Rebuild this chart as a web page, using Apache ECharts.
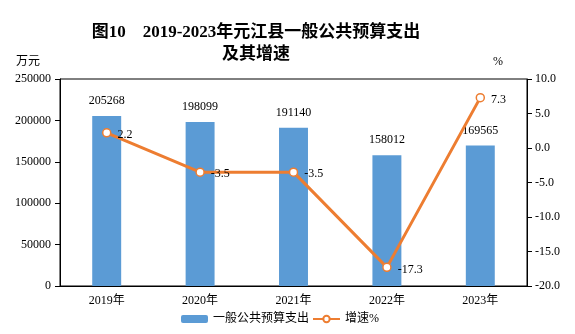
<!DOCTYPE html>
<html><head><meta charset="utf-8">
<script src="https://cdn.jsdelivr.net/npm/echarts@6/dist/echarts.min.js"></script>
<style>html,body{margin:0;padding:0;background:#fff}#c{width:575px;height:334px}</style>
</head><body><div id="c"></div>
<script>
var categories = ['2019年','2020年','2021年','2022年','2023年'];
var spending = [205268, 198099, 191140, 158012, 169565];
var growth = [2.2, -3.5, -3.5, -17.3, 7.3];
var leftTicks = {min: 0, max: 250000, interval: 50000};
var rightTicks = {min: -20, max: 10, interval: 5};

var serif = '"Liberation Serif","Times New Roman","Noto Sans CJK SC",serif';
var chart = echarts.init(document.getElementById('c'));
chart.setOption({
  animation: false,
  textStyle: {fontFamily: serif, color: '#000'},
  graphic: [
    {type: 'text', x: 256, y: 22, style: {text: '图10　2019-2023年元江县一般公共预算支出\n及其增速',
      textAlign: 'center', font: 'bold 17px ' + serif, fill: '#000', lineHeight: 22}},
    {type: 'text', left: 16, top: 56, style: {text: '万元', font: '12px ' + serif, fill: '#000'}},
    {type: 'text', left: 493, top: 56, style: {text: '%', font: '12px ' + serif, fill: '#000'}}
  ],
  legend: {
    bottom: 4, left: 176, itemGap: 3, itemWidth: 27, itemHeight: 8,
    textStyle: {fontFamily: serif, fontSize: 12, color: '#000'},
    data: [{name: '一般公共预算支出'}, {name: '增速%'}]
  },
  grid: {left: 60, right: 48, top: 79, bottom: 48, show: true, borderColor: '#000', borderWidth: 1},
  xAxis: {
    type: 'category', data: categories,
    axisLine: {lineStyle: {color: '#000'}},
    axisTick: {show: false},
    axisLabel: {color: '#000', fontSize: 12, fontFamily: serif, margin: 9}
  },
  yAxis: [
    {type: 'value', min: leftTicks.min, max: leftTicks.max, interval: leftTicks.interval,
     axisLine: {show: true, lineStyle: {color: '#000'}},
     axisTick: {show: true, inside: false, length: 5, lineStyle: {color: '#000'}},
     splitLine: {show: false},
     axisLabel: {color: '#000', fontSize: 12, fontFamily: serif, margin: 9,
       formatter: function (v) { return String(v); }}},
    {type: 'value', min: rightTicks.min, max: rightTicks.max, interval: rightTicks.interval,
     axisLine: {show: true, lineStyle: {color: '#000'}},
     axisTick: {show: true, inside: false, length: 5, lineStyle: {color: '#000'}},
     splitLine: {show: false},
     axisLabel: {color: '#000', fontSize: 12, fontFamily: serif, margin: 8,
       formatter: function (v) { return v.toFixed(1); }}}
  ],
  series: [
    {name: '一般公共预算支出', type: 'bar', data: spending, barWidth: '31%',
     itemStyle: {color: '#5B9BD5'},
     label: {show: true, position: 'top', distance: 9, color: '#000', fontSize: 12, fontFamily: serif}},
    {name: '增速%', type: 'line', yAxisIndex: 1, data: growth,
     symbol: 'circle', symbolSize: 8,
     lineStyle: {color: '#ED7D31', width: 3},
     itemStyle: {color: '#fff', borderColor: '#ED7D31', borderWidth: 1.5},
     label: {show: true, position: 'right', distance: 6, offset: [0, 2], color: '#000', fontSize: 12, fontFamily: serif,
       formatter: function (p) { return p.value.toFixed(1); }}}
  ]
});
</script></body></html>
